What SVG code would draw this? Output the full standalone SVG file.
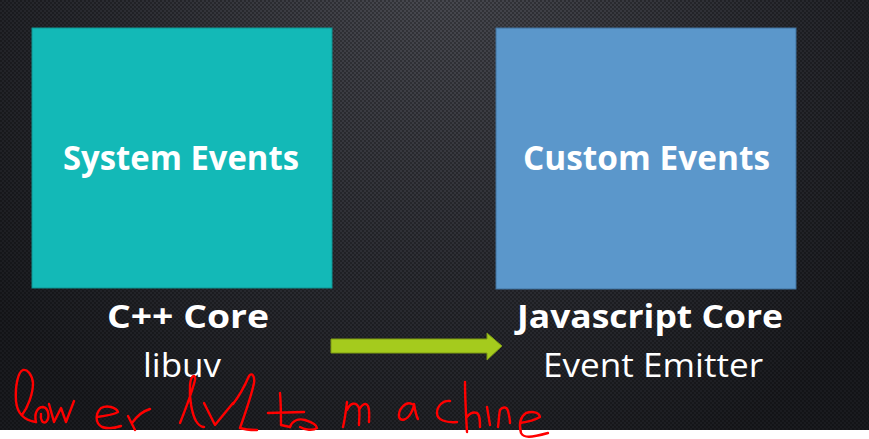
<svg xmlns="http://www.w3.org/2000/svg" width="869" height="439" viewBox="0 0 869 439">
  <defs>
    <radialGradient id="bgGrad" cx="434" cy="-40" r="560" gradientUnits="userSpaceOnUse">
      <stop offset="0" stop-color="#4b4c53"/>
      <stop offset="0.55" stop-color="#2c2d33"/>
      <stop offset="1" stop-color="#1a1b1f"/>
    </radialGradient>
    <pattern id="dots" width="4" height="4" patternUnits="userSpaceOnUse">
      <circle cx="1" cy="1" r="0.9" fill="#000" fill-opacity="0.4"/>
      <circle cx="3" cy="3" r="0.9" fill="#000" fill-opacity="0.4"/>
    </pattern>
    <style>
      .title { font-family: "Open Sans", "Liberation Sans", sans-serif; font-weight: 700; fill: #ffffff; }
      .sub { font-family: "Open Sans", "Liberation Sans", sans-serif; fill: #ffffff; }
      .ink { fill: none; stroke: #ff0000; stroke-width: 2.4; stroke-linecap: round; stroke-linejoin: round; }
    </style>
  </defs>

  <!-- slide background -->
  <rect x="0" y="0" width="869" height="439" fill="url(#bgGrad)"/>
  <rect x="0" y="0" width="869" height="439" fill="url(#dots)"/>
  <rect x="0" y="430" width="869" height="9" fill="#ffffff"/>

  <g id="system-events">
    <rect x="32" y="28" width="300" height="260" fill="#13b9b7" stroke="#0f9694" stroke-width="1"/>
    <text class="title" x="63" y="170" font-size="34" textLength="236" lengthAdjust="spacingAndGlyphs">System Events</text>
  </g>

  <g id="custom-events">
    <rect x="496" y="28" width="300" height="261" fill="#5b97cb" stroke="#41719c" stroke-width="1"/>
    <text class="title" x="523" y="170" font-size="34" textLength="247" lengthAdjust="spacingAndGlyphs">Custom Events</text>
  </g>

  <g id="cpp-core">
    <text class="title" x="107" y="328" font-size="32" textLength="162" lengthAdjust="spacingAndGlyphs">C++ Core</text>
    <text class="sub" x="143" y="377" font-size="33" textLength="78" lengthAdjust="spacingAndGlyphs">libuv</text>
  </g>

  <g id="js-core">
    <text class="title" x="517" y="328" font-size="32" textLength="266" lengthAdjust="spacingAndGlyphs">Javascript Core</text>
    <text class="sub" x="543" y="377" font-size="33" textLength="220" lengthAdjust="spacingAndGlyphs">Event Emitter</text>
  </g>

  <g id="connectors">
    <polygon points="331,339 487,339 487,333 502,346 487,360 487,353 331,353" fill="#a5cb1d" stroke="#7c9a14" stroke-width="1"/>
  </g>

  <!-- handwritten note -->
  <g id="note">
    <path class="ink" d="M22,415 C28,407 33,394 33,383 C32,374 27,369 23,370 C18,372 15,386 16,401 C17,412 22,420 36,422"/>
    <path class="ink" d="M36,422 C34,414 37,407 43,407 C49,408 50,418 46,422 C43,424 40,420 41,414"/>
    <path class="ink" d="M49,404 L54,422 L61,408 L66,422 L74,401"/>
    <path class="ink" d="M97,417 C105,416 113,415 118,412 C116,407 107,405 101,408 C95,414 95,423 102,427 C108,429 115,428 121,426"/>
    <path class="ink" d="M128,416 L135,430 M132,423 C137,416 143,411 150,409"/>
    <path class="ink" d="M180,423 C186,408 192,392 195,380 C196,374 191,374 190,385 C189,398 192,414 196,421 C199,426 202,427 204,427"/>
    <path class="ink" d="M204,403 L215,425 L233,403"/>
    <path class="ink" d="M233,404 C240,395 246,383 249,376 C252,372 255,376 254,383 C251,397 245,414 240,428 C246,430 252,430 257,430"/>
    <path class="ink" d="M268,413 L304,412 M280,393 C281,404 281,416 281,425 L290,427"/>
    <path class="ink" d="M290,427 C292,421 298,418 305,420 C311,422 317,425 317,428 C313,431 305,430 300,427"/>
    <path class="ink" d="M343,427 C345,419 346,410 347,402 M347,410 C350,403 356,401 359,408 C360,414 359,420 359,425 M359,410 C362,404 366,402 368,406 C370,411 369,417 369,422"/>
    <path class="ink" d="M412,404 C405,401 398,410 399,417 C401,422 407,420 411,413 C413,409 414,405 414,404 C415,410 416,416 418,419"/>
    <path class="ink" d="M450,401 C443,400 437,406 437,413 C437,420 446,423 457,422"/>
    <path class="ink" d="M465,382 C465,398 466,415 467,432 M467,417 C470,413 474,412 477,413 C480,415 480,421 480,427"/>
    <path class="ink" d="M487,407 C488,413 489,419 490,425"/>
    <path class="ink" d="M498,427 C499,420 499,414 500,410 C503,406 507,407 508,411 C509,415 510,419 510,423"/>
    <path class="ink" d="M520,423 C527,422 535,420 540,417 C539,412 532,411 526,413 C520,417 519,425 521,433 C524,438 530,438 548,433"/>
  </g>
</svg>
